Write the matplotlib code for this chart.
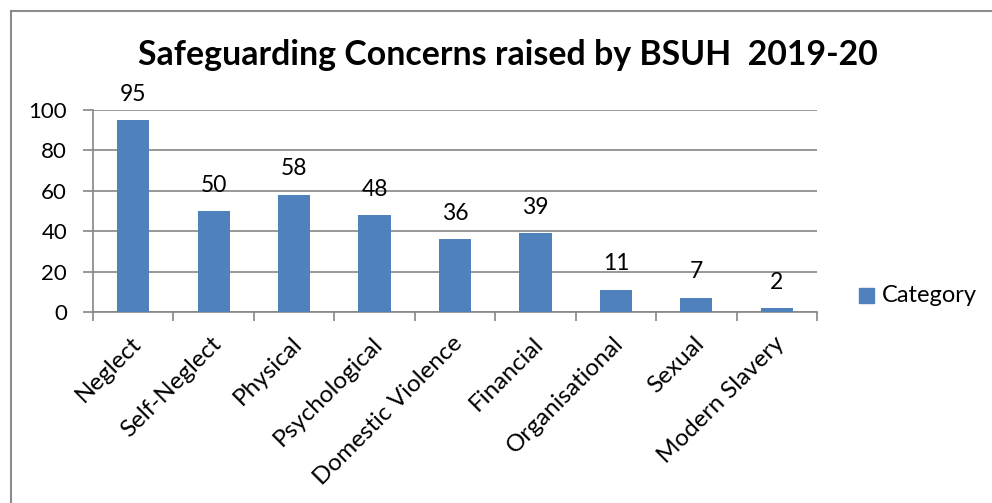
import matplotlib
matplotlib.use("Agg")
import matplotlib.pyplot as plt
import matplotlib.transforms as mtransforms
from matplotlib.patches import Rectangle
from matplotlib.lines import Line2D

categories = ["Neglect", "Self-Neglect", "Physical", "Psychological", "Domestic Violence",
              "Financial", "Organisational", "Sexual", "Modern Slavery"]
values = [95, 50, 58, 48, 36, 39, 11, 7, 2]
yticks = [0, 20, 40, 60, 80, 100]
title = "Safeguarding Concerns raised by BSUH  2019-20"
series_name = "Category"

plt.rcParams['font.family'] = ['Lato', 'DejaVu Sans']
BAR = "#4F81BD"
GRID = "#868686"

W, H = 992, 503
fig = plt.figure(figsize=(W/100, H/100), dpi=100)
fig.patch.set_facecolor("white")

# outer border
fig.add_artist(Line2D([10.5/W, 10.5/W], [0, 1 - 10.5/H], transform=fig.transFigure, color="#8C8C8C", lw=1.5))
fig.add_artist(Line2D([10.5/W, 1], [1 - 10.5/H, 1 - 10.5/H], transform=fig.transFigure, color="#8C8C8C", lw=1.5))

x0, x1 = 93, 817
y0, y1 = 312, 110
ax = fig.add_axes([x0/W, 1 - y0/H, (x1-x0)/W, (y0-y1)/H])
n = len(categories)
xs = list(range(n))
ax.bar(xs, values, width=0.4, color=BAR, zorder=3)
ax.set_xlim(-0.5, n - 0.5)
ax.set_ylim(0, 100)
ax.set_yticks(yticks)
ax.set_yticklabels([str(t) for t in yticks], fontsize=16)
ax.yaxis.grid(True, color=GRID, lw=1.2, zorder=0)
for s in ["top", "right"]:
    ax.spines[s].set_visible(False)
ax.spines["left"].set_color(GRID)
ax.spines["bottom"].set_color(GRID)
ax.spines["left"].set_linewidth(1.2)
ax.spines["bottom"].set_linewidth(1.2)
ax.tick_params(axis="y", length=7.2, width=1.2, color=GRID, pad=11.5, direction="out")
ax.set_xticks([i - 0.5 for i in range(n + 1)], minor=False)
ax.set_xticklabels([])
ax.tick_params(axis="x", which="major", length=6.5, width=1.2, color=GRID)
ax.set_xticks(xs, minor=True)
ax.set_xticklabels(categories, minor=True, rotation=45, ha="right", va="top",
                   rotation_mode="anchor", fontsize=17.5)
ax.tick_params(axis="x", which="minor", length=0, pad=15)
offset = mtransforms.ScaledTranslation(-3/100, 0, fig.dpi_scale_trans)
for lab in ax.get_xticklabels(minor=True):
    lab.set_transform(lab.get_transform() + offset)
for i, v in zip(xs, values):
    ax.annotate(str(v), (i, v), xytext=(0, 14), textcoords="offset points",
                ha="center", va="baseline", fontsize=16.5)

fig.text(508/W, 1 - 65/H, title, ha="center", va="baseline", fontsize=24.4, fontweight="bold")

# legend
fig.add_artist(Rectangle((859/W, 1 - 303/H), 15/W, 15/H, transform=fig.transFigure, color=BAR))
fig.text(882/W, 1 - 302/H, series_name, ha="left", va="baseline", fontsize=17)

fig.savefig("out.png", dpi=100)
